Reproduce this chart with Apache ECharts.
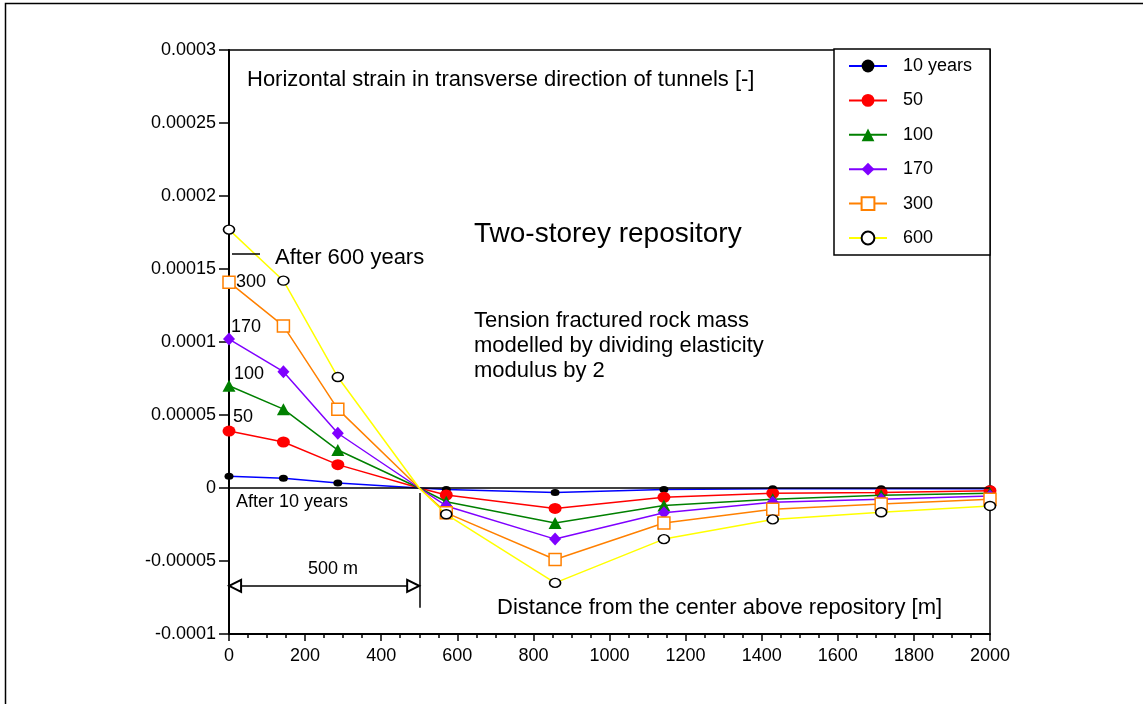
<!DOCTYPE html>
<html>
<head>
<meta charset="utf-8">
<script src="https://cdn.jsdelivr.net/npm/echarts@6/dist/echarts.min.js"></script>
<style>
html,body{margin:0;padding:0;background:#fff;}
#chart{width:1143px;height:704px;}
</style>
</head>
<body>
<div id="chart"></div>
<script>
// ---- data ----
var distances = [0, 143, 286, 500, 571, 857, 1143, 1429, 1714, 2000];
var noMarkerX = [500];
var seriesNames = ['10 years', '50', '100', '170', '300', '600'];
var strain10  = [8.0e-6, 6.6e-6, 3.4e-6, 0, -1.0e-6, -3.0e-6, -1.0e-6, -0.5e-6, -0.5e-6, -0.5e-6];
var strain50  = [3.9e-5, 3.15e-5, 1.6e-5, 0, -4.8e-6, -1.4e-5, -6.4e-6, -3.6e-6, -3.0e-6, -1.8e-6];
var strain100 = [7.0e-5, 5.4e-5, 2.6e-5, 0, -9.4e-6, -2.4e-5, -1.2e-5, -7.7e-6, -5.0e-6, -3.6e-6];
var strain170 = [1.02e-4, 7.97e-5, 3.75e-5, 0, -1.23e-5, -3.5e-5, -1.7e-5, -9.8e-6, -7.7e-6, -5.5e-6];
var strain300 = [1.41e-4, 1.11e-4, 5.4e-5, 0, -1.7e-5, -4.9e-5, -2.4e-5, -1.46e-5, -1.1e-5, -7.7e-6];
var strain600 = [1.77e-4, 1.42e-4, 7.6e-5, 0, -1.8e-5, -6.5e-5, -3.5e-5, -2.15e-5, -1.66e-5, -1.23e-5];
var xTicks = {min: 0, max: 2000, interval: 200};
var yTicks = {min: -0.0001, max: 0.0003, interval: 0.00005};
// annotation geometry in data units
var spanArrow = {x0: 16, x1: 484, y: -6.7e-5};
var spanMarker = {x: 500, y0: -3.4e-6, y1: -8.2e-5};

var FONT = 'Arial, "Liberation Sans", Helvetica, sans-serif';

function build(vals) {
  return distances.map(function (x, i) {
    var item = {value: [x, vals[i]]};
    if (noMarkerX.indexOf(x) >= 0) item.symbol = 'none';
    return item;
  });
}

var styles = [
  {line: '#0000ff', fill: '#000000', border: '#000000', symbol: 'circle', size: [9, 7]},
  {line: '#ff0000', fill: '#ff0000', border: '#ff0000', symbol: 'circle', size: [13, 11]},
  {line: '#008000', fill: '#008000', border: '#008000', symbol: 'triangle', size: [13, 12]},
  {line: '#7f00ff', fill: '#7f00ff', border: '#7f00ff', symbol: 'diamond', size: [12, 13]},
  {line: '#ff8000', fill: '#ffffff', border: '#ff8000', symbol: 'rect', size: [12, 12]},
  {line: '#ffff00', fill: '#ffffff', border: '#000000', symbol: 'circle', size: [11, 9]}
];
var allVals = [strain10, strain50, strain100, strain170, strain300, strain600];

var series = seriesNames.map(function (name, k) {
  var s = styles[k];
  return {
    name: name,
    type: 'line',
    data: build(allVals[k]),
    symbol: s.symbol,
    symbolSize: s.size,
    showAllSymbol: true,
    lineStyle: {color: s.line, width: 1.5},
    itemStyle: {color: s.fill, borderColor: s.border, borderWidth: (s.fill === '#ffffff') ? 1.5 : 0},
    z: 3 + k,
    animation: false
  };
});

// zero line + span annotation
series.push({
  type: 'line',
  data: [],
  silent: true,
  animation: false,
  z: 2,
  markLine: {
    silent: true,
    animation: false,
    symbol: 'none',
    label: {show: false},
    lineStyle: {color: '#000', width: 1.5, type: 'solid'},
    data: [
      [{coord: [xTicks.min, 0]}, {coord: [xTicks.max, 0]}],
      [{coord: [spanMarker.x, spanMarker.y0]}, {coord: [spanMarker.x, spanMarker.y1]}]
    ]
  }
});
series.push({
  type: 'line',
  data: [],
  silent: true,
  animation: false,
  z: 2,
  markLine: {
    silent: true,
    animation: false,
    symbol: ['emptyTriangle', 'emptyTriangle'],
    symbolSize: [12, 12],
    label: {show: false},
    lineStyle: {color: '#000', width: 1.5, type: 'solid'},
    data: [
      [{coord: [spanArrow.x0, spanArrow.y]}, {coord: [spanArrow.x1, spanArrow.y]}]
    ]
  }
});

function txt(x, y, text, size, extra) {
  var st = {text: text, x: x, y: y, fill: '#000', font: size + 'px ' + FONT, textVerticalAlign: 'middle', textAlign: 'left'};
  if (extra) for (var k in extra) st[k] = extra[k];
  return {type: 'text', style: st, z: 50};
}

var chart = echarts.init(document.getElementById('chart'), null, {renderer: 'canvas'});
chart.setOption({
  backgroundColor: '#ffffff',
  animation: false,
  grid: {left: 229, right: 153, top: 50, bottom: 70, show: true, borderColor: '#000', borderWidth: 1.5, backgroundColor: 'transparent'},
  xAxis: {
    type: 'value',
    min: xTicks.min, max: xTicks.max, interval: xTicks.interval,
    axisLine: {show: true, onZero: false, lineStyle: {color: '#000', width: 2}},
    axisTick: {show: true, length: 7, lineStyle: {color: '#000', width: 1.5}},
    minorTick: {show: true, splitNumber: 4, length: 4, lineStyle: {color: '#000', width: 1.5}},
    splitLine: {show: false},
    axisLabel: {color: '#000', fontSize: 18, fontFamily: FONT, margin: 13,
      formatter: function (v) { return String(v); }}
  },
  yAxis: {
    type: 'value',
    min: yTicks.min, max: yTicks.max, interval: yTicks.interval,
    axisLine: {show: true, onZero: false, lineStyle: {color: '#000', width: 2}},
    axisTick: {show: true, length: 10, lineStyle: {color: '#000', width: 1.5}},
    splitLine: {show: false},
    axisLabel: {
      color: '#000', fontSize: 18, fontFamily: FONT, margin: 13,
      formatter: function (v) { return String(parseFloat(v.toFixed(8))); }
    }
  },
  legend: {
    show: true,
    orient: 'vertical',
    left: 834, top: 49,
    data: seriesNames,
    backgroundColor: '#fff',
    borderColor: '#000', borderWidth: 1.5, borderRadius: 0,
    padding: [8, 18, 8, 14],
    itemWidth: 38, itemHeight: 16, itemGap: 16.4,
    textStyle: {color: '#000', fontSize: 18, lineHeight: 18, fontFamily: FONT, padding: [0, 0, 0, 11]}
  },
  graphic: [
    {type: 'rect', shape: {x: 5.5, y: 3.5, width: 1400, height: 900}, style: {fill: 'none', stroke: '#000', lineWidth: 1.5}, z: 0, silent: true},
    txt(247, 80, 'Horizontal strain in transverse direction of tunnels [-]', 22),
    txt(474, 234, 'Two-storey repository', 28),
    txt(474, 308, 'Tension fractured rock mass\nmodelled by dividing elasticity\nmodulus by 2', 22, {textVerticalAlign: 'top', lineHeight: 25}),
    txt(497, 608, 'Distance from the center above repository [m]', 22),
    {type: 'line', shape: {x1: 232, y1: 254, x2: 260, y2: 254}, style: {stroke: '#000', lineWidth: 1.5}, z: 50},
    txt(275, 258, 'After 600 years', 22),
    txt(236, 282, '300', 18),
    txt(231, 327, '170', 18),
    txt(234, 374, '100', 18),
    txt(233, 417, '50', 18),
    txt(236, 502, 'After 10 years', 18),
    txt(308, 569, '500 m', 18)
  ],
  series: series
});
</script>
</body>
</html>
